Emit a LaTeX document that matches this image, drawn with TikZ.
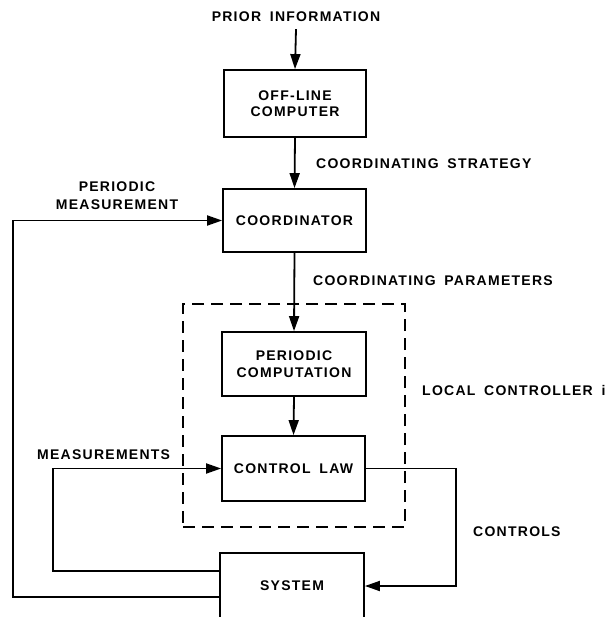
\documentclass[tikz,border=0pt]{standalone}
\usepackage{fontspec}
\setmainfont{Liberation Sans}[LetterSpace=9,WordSpace=1.7,BoldFont={Liberation Sans Bold}]
\usetikzlibrary{arrows.meta}
\begin{document}
\begin{tikzpicture}[x=1pt,y=-1pt,
  every node/.style={font=\fontsize{14}{16}\selectfont\bfseries, align=center},
  blk/.style={draw, line width=1.8pt, inner sep=0pt},
  lbl/.style={inner sep=0pt},
  wire/.style={line width=1.8pt},
  arr/.style={wire, -{Triangle[length=15pt,width=10pt]}},
]
\useasboundingbox (0,0) rectangle (609,617);
% blocks
\node[lbl] (prior) at (296,17) {PRIOR INFORMATION};
\node[blk, minimum width=142pt, minimum height=67pt] (offline) at (295,103.5) {OFF-LINE\\COMPUTER};
\node[blk, minimum width=143pt, minimum height=63pt] (coord) at (294.5,220.5) {COORDINATOR};
\node[blk, dashed, dash pattern=on 12pt off 7pt, minimum width=222pt, minimum height=223pt] (local) at (294,415.5) {};
\node[blk, minimum width=144pt, minimum height=64pt] (percomp) at (294,364) {PERIODIC\\[1pt]COMPUTATION};
\node[blk, minimum width=143pt, minimum height=65pt] (law) at (293.5,468.5) {CONTROL LAW};
\node[blk, minimum width=144pt, minimum height=66pt] (system) at (292,586) {SYSTEM};
% labels
\node[lbl, anchor=west] (lstrat) at (316,164) {COORDINATING STRATEGY};
\node[lbl] (lpm) at (117,196) {PERIODIC\\[2pt]MEASUREMENT};
\node[lbl, anchor=west] (lpar) at (313,281) {COORDINATING PARAMETERS};
\node[lbl, anchor=west] (lloc) at (422,390) {LOCAL CONTROLLER i};
\node[lbl, anchor=west] (lmeas) at (37,455) {MEASUREMENTS};
\node[lbl, anchor=west] (lctl) at (473,532) {CONTROLS};
% helper coordinates
\coordinate (pmc) at (13,597);
\coordinate (msc) at (53,571);
\coordinate (ctc) at (456,468.5);
% connectors
\draw[arr] ([yshift=-7pt]prior.south) -- (offline.north);
\draw[arr] (offline.south) -- (coord.north);
\draw[arr] (coord.south) -- (percomp.north);
\draw[arr] (percomp.south) -- (law.north);
\draw[arr] ([yshift=-11pt]system.west) -- (pmc) |- (coord.west);
\draw[arr] ([yshift=15pt]system.west) -- (msc) |- (law.west);
\draw[arr] (law.east) -- (ctc) |- (system.east);
\end{tikzpicture}
\end{document}
